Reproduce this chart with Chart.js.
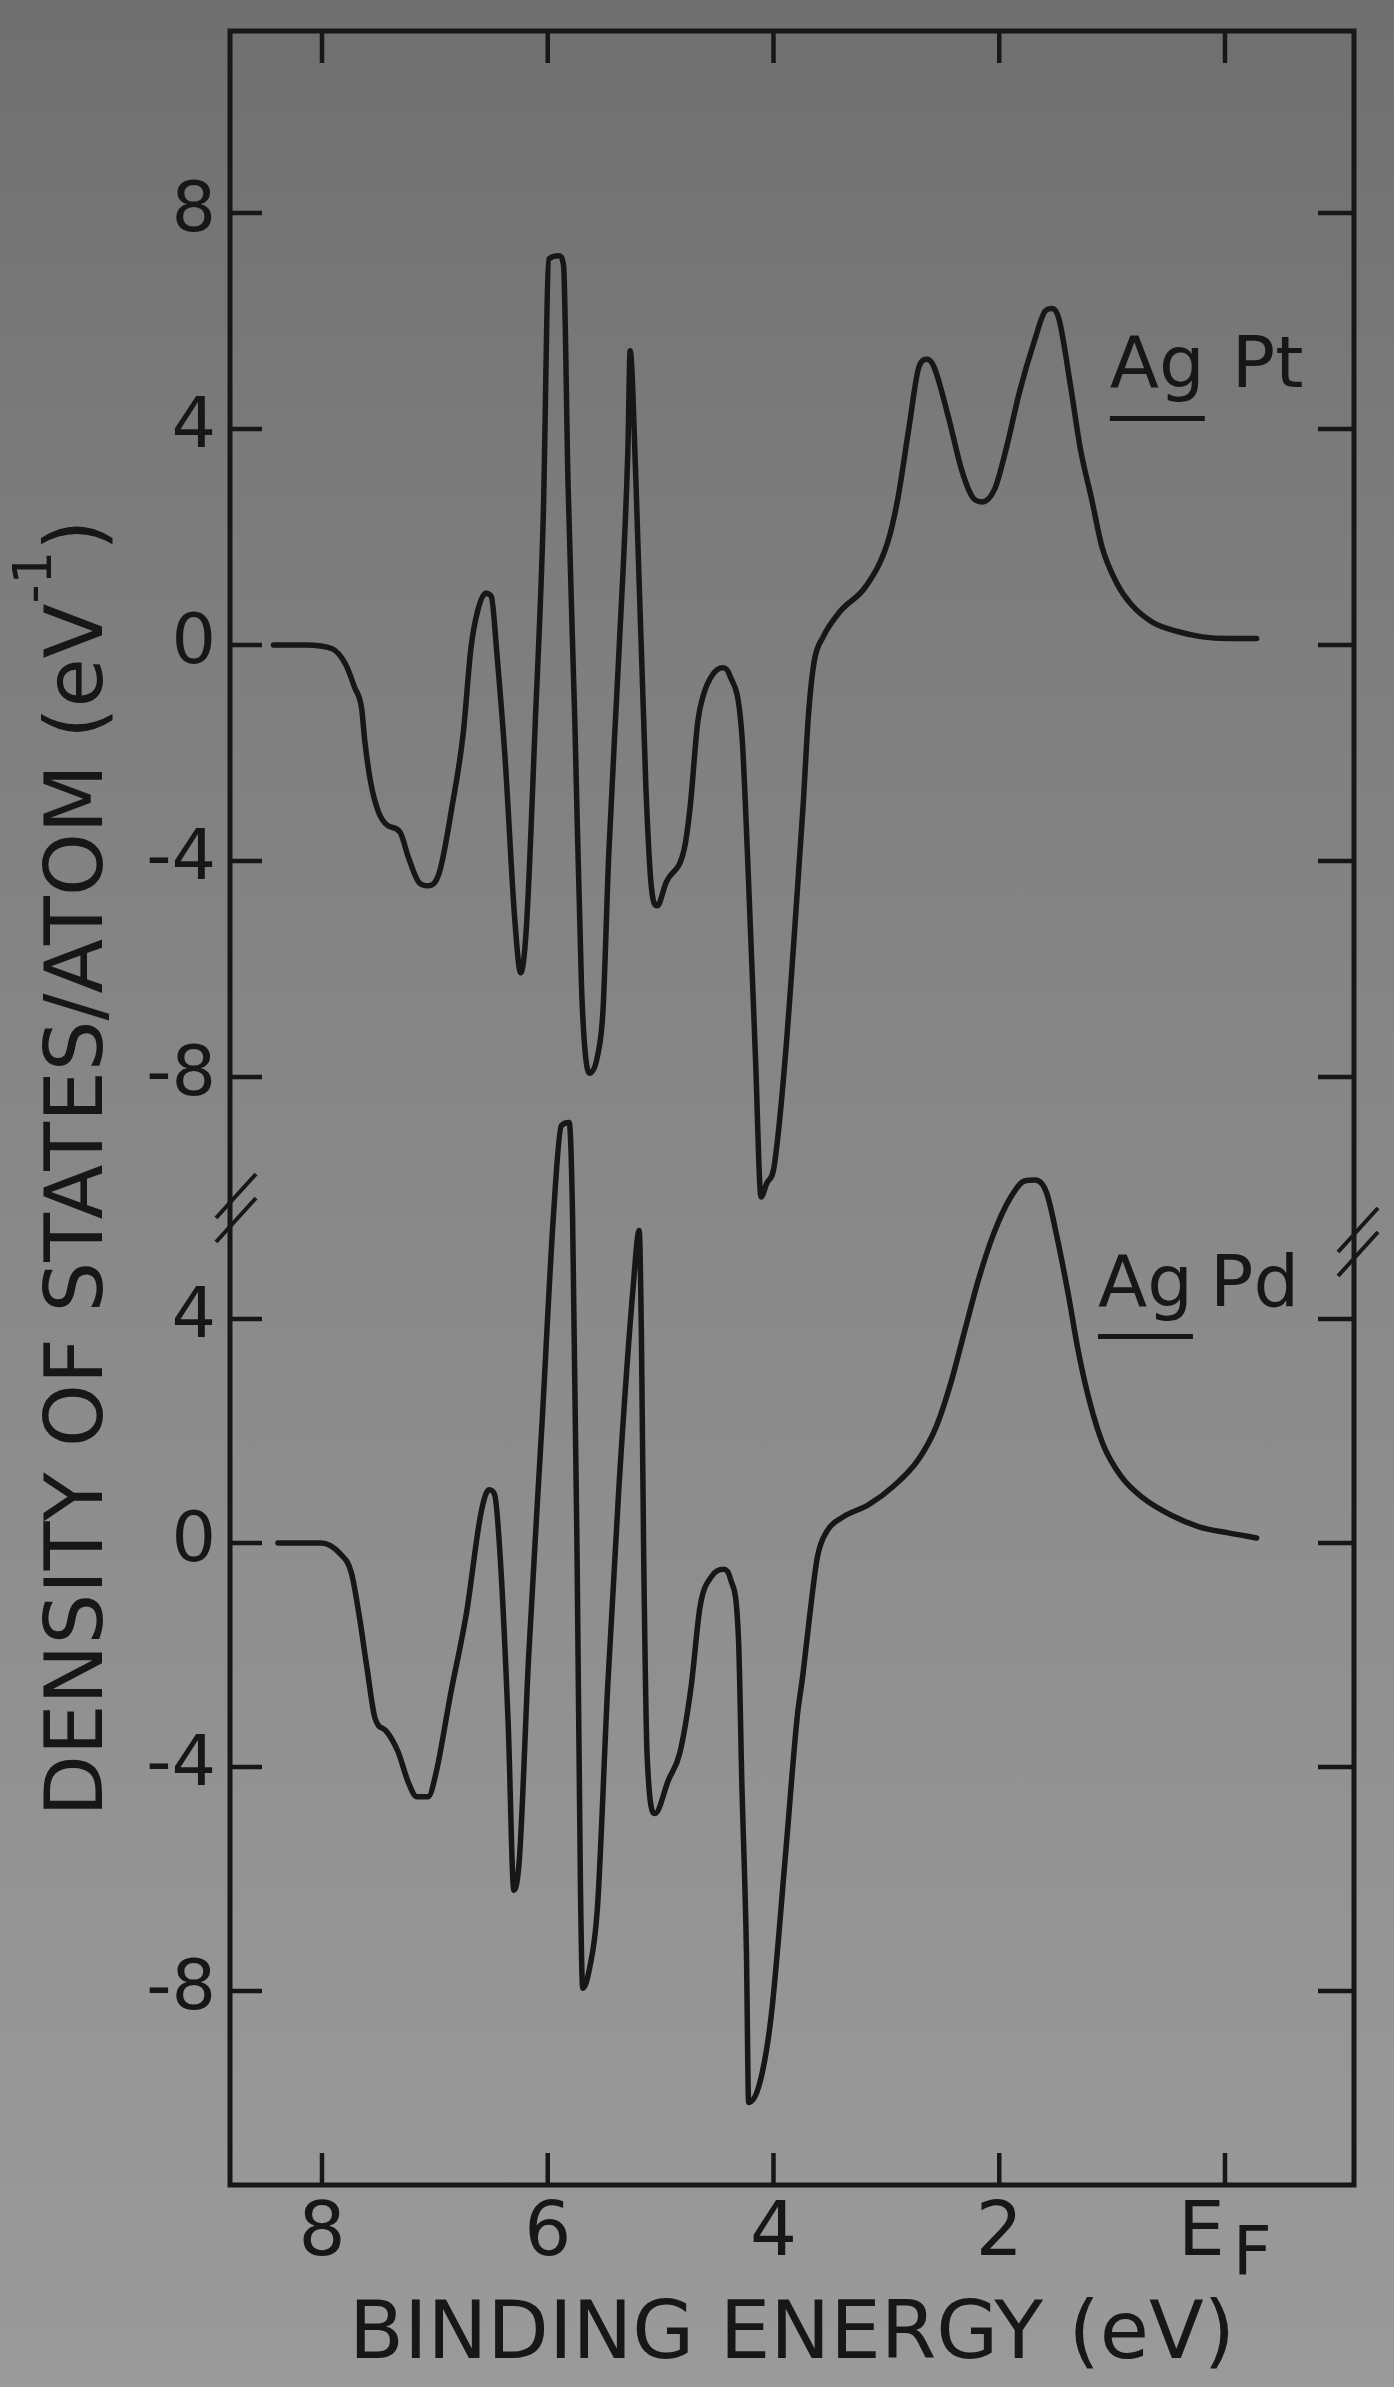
<!DOCTYPE html>
<html>
<head>
<meta charset="utf-8">
<title>Density of states: AgPt and AgPd</title>
<script src="https://cdn.jsdelivr.net/npm/chart.js@4.4.1/dist/chart.umd.min.js"></script>
<style>
  html, body { margin: 0; padding: 0; }
  body {
    width: 1394px; height: 2387px; overflow: hidden;
    background: linear-gradient(to bottom, #6f6f6f 0%, #7a7a7a 18%, #848484 40%, #8c8c8c 60%, #949494 80%, #9a9a9a 100%);
  }
  canvas { display: block; }
</style>
</head>
<body>
<canvas id="dos" width="1394" height="2387"></canvas>
<script>
// Tick values
const energyTicks = [8, 6, 4, 2, 0];
const ptTicks = [8, 4, 0, -4, -8];
const pdTicks = [4, 0, -4, -8];

// AgPt: binding energy (eV) and density of states (states/atom/eV)
const ptEnergy = [8.43, 8.15, 7.91, 7.79, 7.71, 7.65, 7.62, 7.57, 7.50, 7.42,
  7.31, 7.23, 7.14, 7.06, 6.96, 6.85, 6.75, 6.68, 6.62, 6.55,
  6.50, 6.45, 6.38, 6.29, 6.24, 6.19, 6.11, 6.04, 5.99, 5.90,
  5.86, 5.82, 5.76, 5.70, 5.63, 5.56, 5.51, 5.46, 5.37, 5.29,
  5.27, 5.22, 5.13, 5.08, 5.03, 4.95, 4.79, 4.74, 4.67, 4.62,
  4.54, 4.45, 4.39, 4.28, 4.23, 4.16, 4.11, 4.06, 3.99, 3.74,
  3.69, 3.64, 3.56, 3.41, 3.18, 2.99, 2.90, 2.80, 2.71, 2.64,
  2.58, 2.45, 2.33, 2.23, 2.15, 2.04, 1.94, 1.82, 1.69, 1.59,
  1.53, 1.47, 1.37, 1.28, 1.18, 1.09, 0.96, 0.83, 0.64, 0.42,
  0.20, -0.03, -0.28];
const ptDos = [0, 0, -0.07, -0.36, -0.79, -1.16, -1.79, -2.53, -3.09, -3.34,
  -3.46, -3.96, -4.40, -4.46, -4.21, -3.02, -1.66, -0.05, 0.64, 0.96,
  0.90, -0.17, -2.03, -5.14, -6.07, -5.26, -1.41, 2.35, 7.15, 7.21,
  7.03, 2.98, -1.41, -6.38, -7.93, -7.62, -6.75, -3.90, -0.17, 3.61,
  5.45, 3.11, -2.66, -4.52, -4.83, -4.39, -3.77, -3.03, -1.41, -0.92,
  -0.55, -0.42, -0.55, -1.66, -3.90, -7.62, -10.22, -9.97, -9.60, -3.05,
  -1.29, -0.31, 0.15, 0.62, 1.09, 1.89, 2.69, 4.02, 5.16, 5.29,
  5.16, 4.22, 3.22, 2.72, 2.65, 2.89, 3.62, 4.69, 5.62, 6.19,
  6.23, 6.03, 4.82, 3.62, 2.69, 1.82, 1.15, 0.75, 0.42, 0.25,
  0.15, 0.12, 0.12];

// AgPd: binding energy (eV) and density of states (states/atom/eV)
const pdEnergy = [8.39, 8.01, 7.84, 7.74, 7.67, 7.60, 7.53, 7.43, 7.33, 7.23,
  7.16, 7.06, 6.99, 6.86, 6.72, 6.59, 6.52, 6.47, 6.42, 6.35,
  6.30, 6.25, 6.17, 6.05, 5.95, 5.88, 5.81, 5.78, 5.74, 5.71,
  5.69, 5.63, 5.56, 5.47, 5.37, 5.24, 5.19, 5.17, 5.15, 5.12,
  5.05, 4.93, 4.83, 4.73, 4.65, 4.55, 4.44, 4.38, 4.31, 4.28,
  4.24, 4.22, 4.12, 4.02, 3.89, 3.79, 3.74, 3.68, 3.61, 3.53,
  3.38, 3.16, 2.94, 2.72, 2.56, 2.43, 2.31, 2.18, 2.05, 1.90,
  1.77, 1.68, 1.58, 1.49, 1.39, 1.30, 1.20, 1.08, 0.92, 0.73,
  0.48, 0.23, -0.03, -0.28];
const pdDos = [0, 0, -0.19, -0.53, -1.30, -2.25, -3.13, -3.36, -3.71, -4.30,
  -4.53, -4.53, -4.11, -2.69, -1.25, 0.55, 0.95, 0.86, -0.29, -3.25,
  -6.20, -5.61, -2.06, 2.16, 5.83, 7.45, 7.51, 5.84, -0.25, -6.17,
  -7.95, -7.60, -6.52, -2.61, 0.98, 4.65, 5.58, 3.69, -0.22, -3.77,
  -4.83, -4.23, -3.75, -2.57, -1.13, -0.60, -0.47, -0.65, -1.71, -4.31,
  -7.27, -9.99, -9.63, -8.44, -5.48, -3.11, -2.36, -1.31, -0.24, 0.20,
  0.47, 0.68, 1.01, 1.48, 2.07, 2.85, 3.76, 4.73, 5.52, 6.17,
  6.47, 6.48, 6.25, 5.48, 4.46, 3.43, 2.53, 1.76, 1.19, 0.81,
  0.50, 0.29, 0.18, 0.09];

const INK = '#171717';
const FONT = "'DejaVu Sans', 'Liberation Sans', sans-serif";
const X_TICK_SIZE = 74;
const Y_TICK_SIZE = 70;

const toPoints = (xs, ys) => xs.map((x, i) => ({ x, y: ys[i] }));

const curve = (label, xs, ys, axis) => ({
  label,
  data: toPoints(xs, ys),
  yAxisID: axis,
  borderColor: INK,
  backgroundColor: INK,
  borderWidth: 5.5,
  pointRadius: 0,
  pointHoverRadius: 0,
  fill: false,
  clip: false,
  cubicInterpolationMode: 'monotone',
  borderJoinStyle: 'round',
  borderCapStyle: 'round'
});

// Frame, inward ticks, axis breaks, E_F label, curve names and the y title
const decor = {
  id: 'decor',
  afterDraw(chart) {
    const { ctx, chartArea: a, scales } = chart;
    const sx = scales.x, sPt = scales.yPt, sPd = scales.yPd;
    const seg = (x1, y1, x2, y2) => { ctx.beginPath(); ctx.moveTo(x1, y1); ctx.lineTo(x2, y2); ctx.stroke(); };
    ctx.save();
    ctx.strokeStyle = INK;
    ctx.fillStyle = INK;

    ctx.lineWidth = 5;
    ctx.lineJoin = 'miter';
    ctx.strokeRect(a.left, a.top, a.right - a.left, a.bottom - a.top);

    ctx.lineWidth = 4.5;
    ctx.lineCap = 'butt';
    for (const v of energyTicks) {
      const px = sx.getPixelForValue(v);
      seg(px, a.bottom, px, a.bottom - 32);
      seg(px, a.top, px, a.top + 32);
    }
    for (const [s, ticks] of [[sPt, ptTicks], [sPd, pdTicks]]) {
      for (const v of ticks) {
        const py = s.getPixelForValue(v);
        seg(a.left, py, a.left + 32, py);
        seg(a.right, py, a.right - 36, py);
      }
    }

    // "//" break marks where the two panels meet
    const yb = sPd.top;
    const brk = (cx, cy) => {
      ctx.lineWidth = 4;
      for (const d of [-12, 12]) seg(cx - 20, cy + d + 22, cx + 20, cy + d - 22);
    };
    brk(a.left + 6, yb - 14);
    brk(a.right + 4, yb + 20);

    // E_F label under the zero tick
    const lineH = X_TICK_SIZE * 1.2;
    const ly = a.bottom + sx.options.ticks.padding + lineH / 2;
    ctx.textBaseline = 'middle';
    ctx.textAlign = 'left';
    ctx.font = `${X_TICK_SIZE}px ${FONT}`;
    const ew = ctx.measureText('E').width;
    ctx.font = `${X_TICK_SIZE - 6}px ${FONT}`;
    const fw = ctx.measureText('F').width;
    const ex = sx.getPixelForValue(0) - (ew + 8 + fw) / 2;
    ctx.font = `${X_TICK_SIZE}px ${FONT}`;
    ctx.fillText('E', ex, ly);
    ctx.font = `${X_TICK_SIZE - 6}px ${FONT}`;
    ctx.fillText('F', ex + ew + 8, ly + 22);

    // Curve names, with the host metal underlined
    const tag = (s, at, second, gap) => {
      const x = sx.getPixelForValue(at.x);
      const y = s.getPixelForValue(at.y);
      ctx.font = `72px ${FONT}`;
      ctx.textBaseline = 'alphabetic';
      ctx.textAlign = 'left';
      ctx.fillText('Ag', x, y);
      ctx.fillText(second, x + gap, y);
      const w = ctx.measureText('Ag').width;
      ctx.lineWidth = 5;
      seg(x, y + 31, x + w, y + 31);
    };
    tag(sPt, { x: 1.02, y: 4.77 }, 'Pt', 122);
    tag(sPd, { x: 1.125, y: 4.24 }, 'Pd', 112);

    // Rotated y-axis title with a superscript exponent
    const S = 80;
    const main = 'DENSITY OF STATES/ATOM (eV';
    ctx.save();
    ctx.translate(102, 1168);
    ctx.rotate(-Math.PI / 2);
    ctx.textBaseline = 'alphabetic';
    ctx.textAlign = 'left';
    ctx.font = `${S}px ${FONT}`;
    const wMain = ctx.measureText(main).width;
    const wClose = ctx.measureText(')').width;
    ctx.font = `${Math.round(S * 0.66)}px ${FONT}`;
    const wSup = ctx.measureText('-1').width;
    let x = -(wMain + wSup + wClose) / 2;
    ctx.font = `${S}px ${FONT}`;
    ctx.fillText(main, x, 0);
    x += wMain;
    ctx.font = `${Math.round(S * 0.66)}px ${FONT}`;
    ctx.fillText('-1', x, -S * 0.64);
    x += wSup;
    ctx.font = `${S}px ${FONT}`;
    ctx.fillText(')', x, 0);
    ctx.restore();

    ctx.restore();
  }
};

const yCommon = (ticks, weight, min, max) => ({
  type: 'linear',
  position: 'left',
  stack: 'dos',
  stackWeight: weight,
  min, max,
  grid: { display: false, drawTicks: false },
  border: { display: false },
  afterBuildTicks: s => { s.ticks = ticks.map(v => ({ value: v })); },
  afterFit: s => { s.width = 230; s.paddingTop = 0; s.paddingBottom = 0; },
  ticks: {
    autoSkip: false,
    padding: 14,
    color: INK,
    font: { family: FONT, size: Y_TICK_SIZE },
    callback: v => String(v)
  }
});

new Chart(document.getElementById('dos'), {
  type: 'line',
  data: {
    datasets: [
      curve('Ag Pt', ptEnergy, ptDos, 'yPt'),
      curve('Ag Pd', pdEnergy, pdDos, 'yPd')
    ]
  },
  options: {
    responsive: false,
    animation: false,
    devicePixelRatio: 1,
    layout: { padding: { top: 31, right: 40, left: 0, bottom: 0 } },
    plugins: { legend: { display: false }, tooltip: { enabled: false } },
    scales: {
      x: {
        type: 'linear',
        position: 'bottom',
        reverse: true,
        min: -1.143,
        max: 8.815,
        grid: { display: false, drawTicks: false },
        border: { display: false },
        afterBuildTicks: s => { s.ticks = energyTicks.map(v => ({ value: v })); },
        afterFit: s => { s.height = 202; s.paddingLeft = 0; s.paddingRight = 0; },
        ticks: {
          autoSkip: false,
          maxRotation: 0,
          padding: 6,
          color: INK,
          font: { family: FONT, size: X_TICK_SIZE },
          callback: v => (v === 0 ? '' : String(v))
        },
        title: {
          display: true,
          text: 'BINDING ENERGY (eV)',
          color: INK,
          font: { family: FONT, size: 80, lineHeight: 1 },
          padding: { top: 0, bottom: 10 }
        }
      },
      yPd: yCommon(pdTicks, 963, -11.464, 5.732),
      yPt: yCommon(ptTicks, 1191, -10.685, 11.37)
    }
  },
  plugins: [decor]
});
</script>
</body>
</html>
